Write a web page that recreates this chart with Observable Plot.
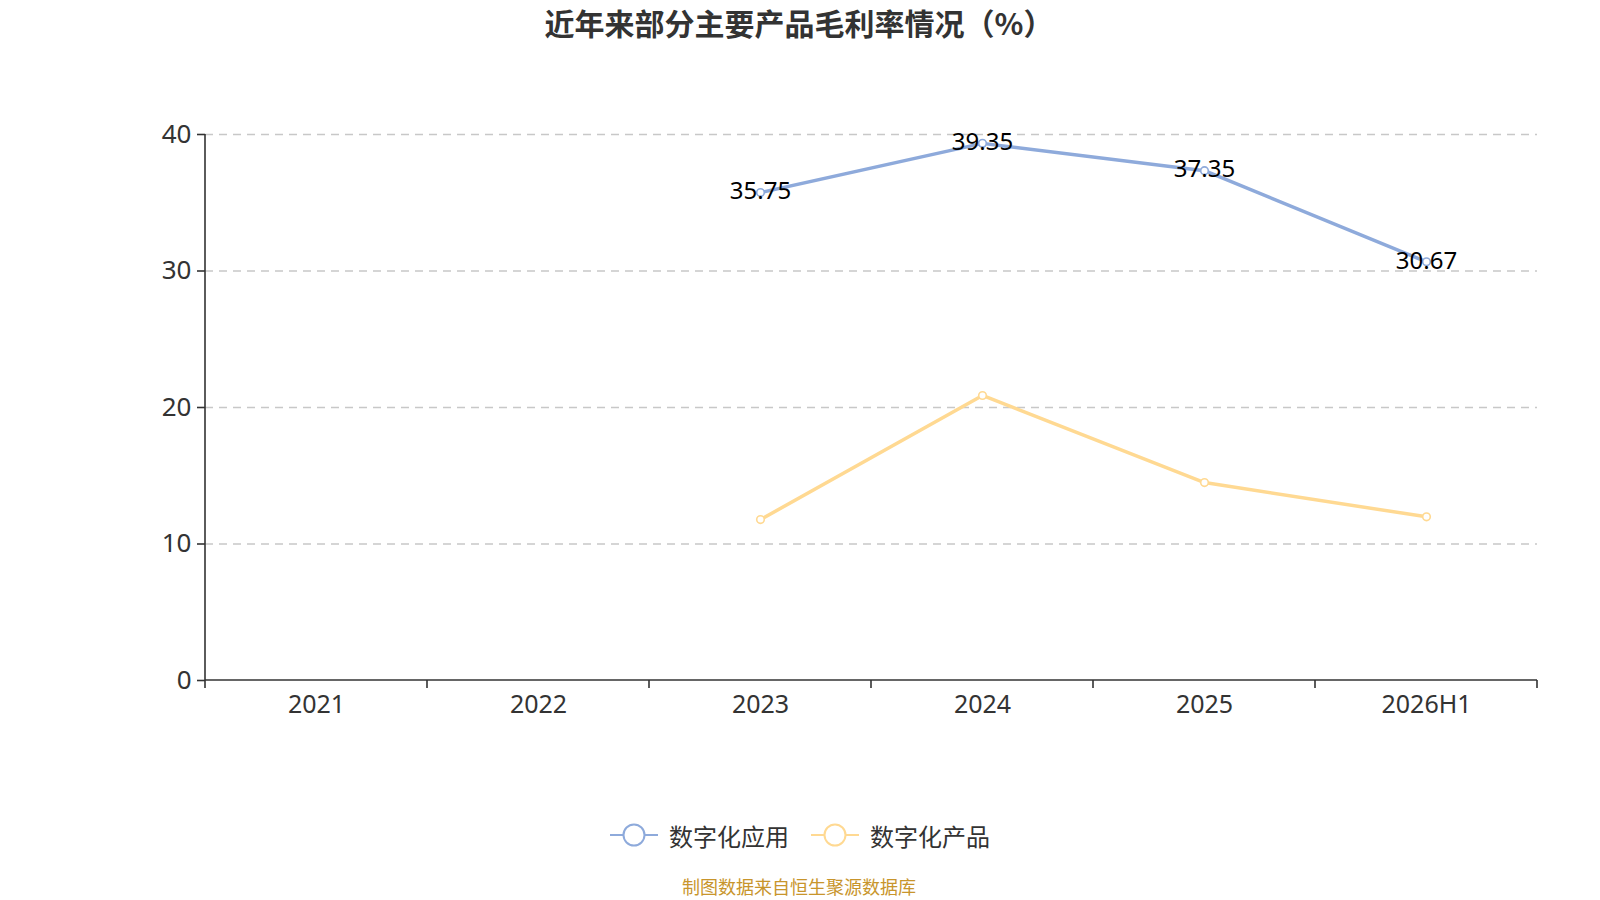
<!DOCTYPE html>
<html>
<head>
<meta charset="utf-8">
<script src="https://cdn.jsdelivr.net/npm/d3@7"></script>
<script src="https://cdn.jsdelivr.net/npm/@observablehq/plot@0.6"></script>
<style>
  body { margin: 0; background: #fff; font-family: "Noto Sans", "Noto Sans CJK SC", sans-serif; }
  #wrap { position: relative; width: 1600px; height: 900px; overflow: hidden; }
  #title { position: absolute; left: 0; top: 0; width: 1598px; height: 44px; line-height: 44px; text-align: center;
           font-size: 30px; font-weight: bold; color: #333; font-family: "Noto Sans CJK SC", sans-serif; }
  #chart { position: absolute; left: 0; top: 44px; }
  #legend { position: absolute; left: 0; top: 815px; width: 1600px; height: 40px; display: flex; justify-content: center; align-items: center; gap: 22px;
            font-family: "Noto Sans CJK SC", sans-serif; font-size: 24px; color: #333; }
  .item { display: flex; align-items: center; gap: 11px; }
  #source { position: absolute; left: 0; top: 874px; width: 1598px; height: 24px; line-height: 24px; text-align: center; font-size: 18px; color: #c8952c;
            font-family: "Noto Sans CJK SC", sans-serif; }
</style>
</head>
<body>
<div id="wrap">
  <div id="title"></div>
  <div id="chart"></div>
  <div id="legend"></div>
  <div id="source"></div>
</div>
<script>
const titleText = "近年来部分主要产品毛利率情况（%）";
const sourceText = "制图数据来自恒生聚源数据库";
const categories = ["2021", "2022", "2023", "2024", "2025", "2026H1"];
const seriesNames = ["数字化应用", "数字化产品"];
const appValues = [null, null, 35.75, 39.35, 37.35, 30.67];
const prodValues = [null, null, 11.79, 20.88, 14.5, 11.99];
const seriesColors = ["#8eaadb", "#ffd992"];
const yTicks = [0, 10, 20, 30, 40];

document.getElementById("title").textContent = titleText;
document.getElementById("source").textContent = sourceText;

const rows = [];
[appValues, prodValues].forEach((vals, s) => {
  vals.forEach((v, i) => { if (v != null) rows.push({series: seriesNames[s], cat: categories[i], value: v}); });
});
const appRows = rows.filter(d => d.series === seriesNames[0]);

const W = 1600, H = 760, ML = 205, MR = 63, MT = 90, MB = 124;

function axesFrame(index, scales, values, dimensions) {
  const ns = "http://www.w3.org/2000/svg";
  const g = document.createElementNS(ns, "g");
  const bw = (dimensions.width - dimensions.marginLeft - dimensions.marginRight) / categories.length;
  const y0 = scales.y(0), y1 = scales.y(d3.max(yTicks));
  const x0 = scales.x(categories[0]);
  const xEnd = scales.x(categories[categories.length - 1]) + bw;
  const line = (xa, ya, xb, yb) => {
    const l = document.createElementNS(ns, "line");
    l.setAttribute("x1", xa); l.setAttribute("y1", ya);
    l.setAttribute("x2", xb); l.setAttribute("y2", yb);
    l.setAttribute("stroke", "#333"); l.setAttribute("stroke-width", 1.6);
    g.appendChild(l);
  };
  line(x0, y0, x0, y1);
  line(x0, y0, xEnd, y0);
  categories.forEach(c => line(scales.x(c), y0, scales.x(c), y0 + 8));
  line(xEnd, y0, xEnd, y0 + 8);
  return g;
}

const plot = Plot.plot({
  width: W, height: H,
  marginLeft: ML, marginRight: MR, marginTop: MT, marginBottom: MB,
  style: { fontFamily: "'Noto Sans', 'Noto Sans CJK SC', sans-serif", background: "#fff" },
  x: { type: "band", domain: categories, padding: 0, label: null },
  y: { domain: [0, 40], label: null },
  color: { domain: seriesNames, range: seriesColors },
  marks: [
    Plot.gridY(yTicks.filter(d => d > 0), { stroke: "#c8c8c8", strokeOpacity: 1, strokeWidth: 1.4, strokeDasharray: "8,6" }),
    Plot.axisY({ ticks: yTicks, tickSize: 8, tickPadding: 6, fontSize: 26, color: "#333", label: null, strokeWidth: 1.6 }),
    Plot.axisX({ tickSize: 0, tickPadding: 15, fontSize: 25, color: "#333", label: null }),
    axesFrame,
    Plot.line(rows, { x: "cat", y: "value", z: "series", stroke: "series", strokeWidth: 3.5 }),
    Plot.dot(rows, { x: "cat", y: "value", stroke: "series", fill: "#fff", r: 3.8, strokeWidth: 1.6 }),
    Plot.text(appRows, { x: "cat", y: "value", text: d => d.value.toFixed(2), fill: "#000", fontSize: 24, dy: -1 })
  ]
});
document.getElementById("chart").appendChild(plot);

const legend = document.getElementById("legend");
seriesNames.forEach((name, i) => {
  const item = document.createElement("div");
  item.className = "item";
  item.innerHTML = `<svg width="48" height="26"><line x1="0" y1="13" x2="48" y2="13" stroke="${seriesColors[i]}" stroke-width="2"/>` +
    `<circle cx="24" cy="13" r="10.5" fill="#fff" stroke="${seriesColors[i]}" stroke-width="2"/></svg><span>${name}</span>`;
  legend.appendChild(item);
});
</script>
</body>
</html>
